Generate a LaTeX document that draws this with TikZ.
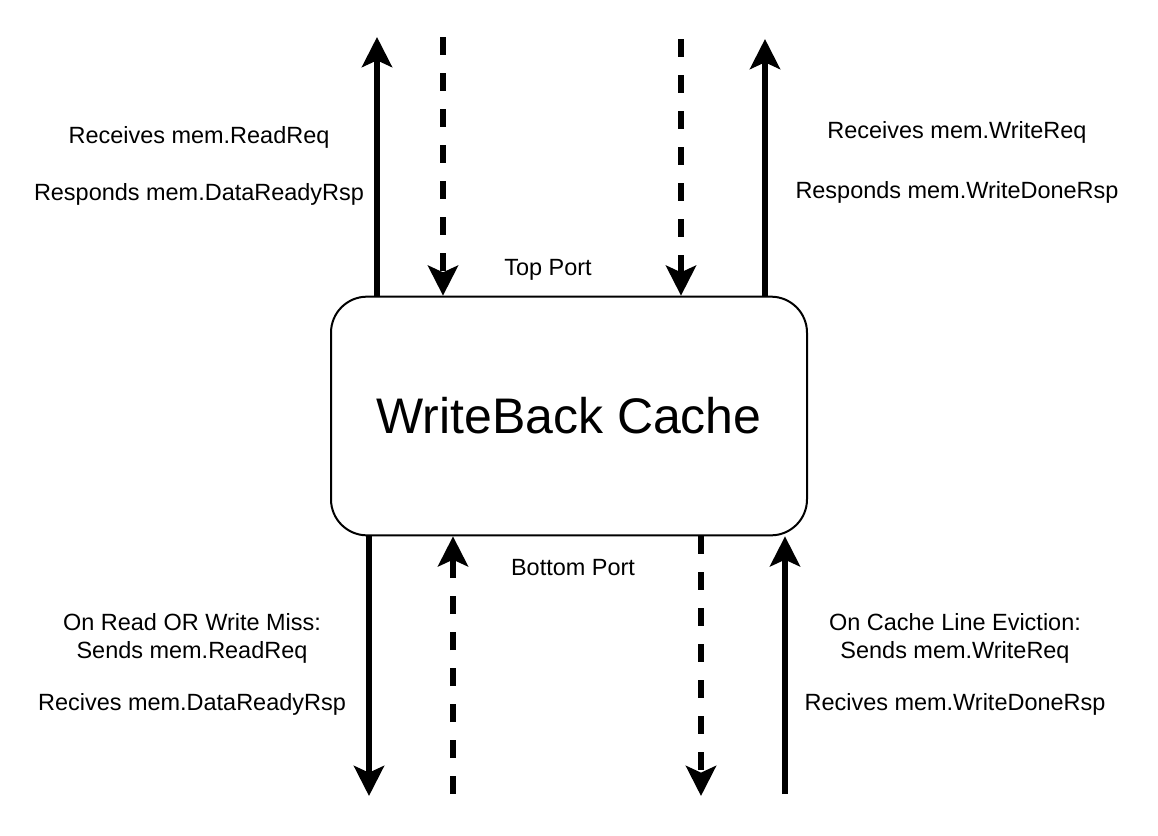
\documentclass[tikz,border=0pt]{standalone}
\usepackage{fontspec}
\setmainfont{Liberation Sans}
\usetikzlibrary{arrows.meta}
\begin{document}
\begin{tikzpicture}[x=0.75pt,y=-0.75pt,
  lbl/.style={font=\fontsize{17.6pt}{21pt}\selectfont, inner sep=0pt, anchor=base},
  port/.style={line width=4.5pt, -{Stealth[length=22.5pt,width=22.5pt,inset=5pt]}},
  dashport/.style={port, dash pattern=on 13.5pt off 13.5pt},
  cachebox/.style={draw, line width=1.5pt, rounded corners=27pt, minimum width=357pt, minimum height=179pt, inner sep=0pt, font=\fontsize{37.5pt}{45pt}\selectfont}]
\useasboundingbox (0,0) rectangle (1158,836);

\node[cachebox] (cache) at (569,416) {WriteBack Cache};

% free ends
\coordinate (tl) at (377,37);
\coordinate (td) at (443,37);
\coordinate (trd) at (681,39);
\coordinate (tr) at (765,39);
\coordinate (bl) at (369,796);
\coordinate (bd) at (453,794);
\coordinate (brd) at (701,796);
\coordinate (br) at (785,794);

% top port
\draw[port] (cache.north -| tl) -- (tl);
\draw[dashport] (td) -- (cache.north -| td);
\draw[dashport] (trd) -- (cache.north -| trd);
\draw[port] (cache.north -| tr) -- (tr);

% bottom port
\draw[port] (cache.south -| bl) -- (bl);
\draw[dashport] (bd) -- (cache.south -| bd);
\draw[dashport] (cache.south -| brd) -- (brd);
\draw[port] (br) -- (cache.south -| br);

% labels
\node[lbl] (l1) at (199,143) {Receives mem.ReadReq};
\node[lbl] (l2) at (199,200) {Responds mem.DataReadyRsp};
\node[lbl] (r1) at (957,138) {Receives mem.WriteReq};
\node[lbl] (r2) at (957,198) {Responds mem.WriteDoneRsp};
\node[lbl] (tp) at (548,275) {Top Port};
\node[lbl] (bp) at (573,575) {Bottom Port};
\node[lbl] (bl1) at (192,630) {On Read OR Write Miss:};
\node[lbl] (bl2) at (192,658) {Sends mem.ReadReq};
\node[lbl] (bl3) at (192,710) {Recives mem.DataReadyRsp};
\node[lbl] (br1) at (955,630) {On Cache Line Eviction:};
\node[lbl] (br2) at (955,658) {Sends mem.WriteReq};
\node[lbl] (br3) at (955,710) {Recives mem.WriteDoneRsp};
\end{tikzpicture}
\end{document}
